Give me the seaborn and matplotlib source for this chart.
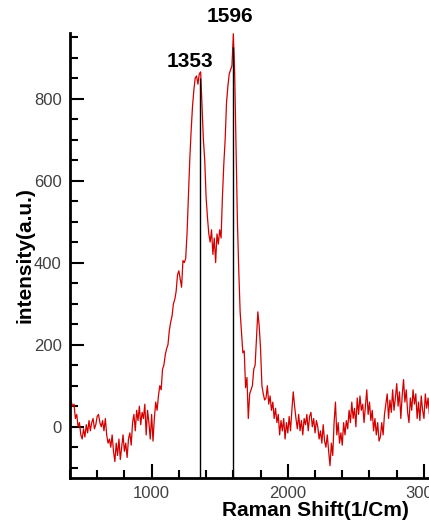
import numpy as np
import matplotlib
matplotlib.use("Agg")
import matplotlib.pyplot as plt
import seaborn as sns
from matplotlib.ticker import MultipleLocator

# Raman shift grid (1/cm), sampled every 10
raman_shift = np.arange(400, 3041, 10)

# intensity, one row per 100 1/cm
intensity = [
    95, 60, 50, 55, 20, 30, 0, 10, -20, -30,
    -5, -25, 5, -15, 15, -10, 10, 20, -5, 5,
    25, 30, 10, 0, 15, -10, 20, -20, -40, -30,
    -50, -20, -60, -85, -40, -70, -30, -80, -50, -20,
    -60, -40, -75, -30, -15, -45, 10, 30, -10, 40,
    15, 50, 5, 35, 20, 55, -20, 40, 10, -30,
    30, -35, 20, 60, 40, 75, 100, 90, 140, 150,
    175, 190, 200, 235, 255, 270, 300, 310, 330, 370,
    380, 360, 340, 405, 400, 410, 470, 560, 650, 720,
    780, 820, 850, 855, 835, 860, 865, 780, 700, 650,
    560, 510, 470, 450, 480, 420, 460, 400, 470, 445,
    480, 460, 560, 640, 700, 790, 830, 860, 870, 880,
    958, 860, 680, 500, 380, 280, 230, 180, 185, 95,
    120, 20, 80, 90, 100, 140, 150, 215, 280, 245,
    190, 100, 80, 65, 70, 100, 55, 75, 40, 60,
    20, 45, 10, 30, -20, 15, -10, 20, -30, 10,
    -15, 25, -10, 40, 85, 50, 20, -5, 30, -10,
    15, -20, 20, 5, 30, -10, 25, 35, 0, 20,
    -15, 15, 0, -30, -10, -40, 5, -35, -50, -20,
    -60, -95, -40, -70, 10, 60, -20, 10, -40, -15,
    -45, 10, -20, 15, -5, 40, 10, 60, 20, 45,
    0, 70, 30, 75, 40, 55, 10, 50, 90, 30,
    60, 15, 40, -10, 20, -20, 10, -35, -25, 10,
    -20, 30, 55, 80, 20, 65, 35, 90, 40, 70,
    105, 50, 85, 20, 75, 115, 60, 90, 35, 10,
    70, 40, 90, 55, 80, 20, 60, 15, 75, 40,
    20, 80, 45, 70, 30,
]

# marked peaks
peak_pos = [1353, 1596]
peak_top = [850, 925]
peak_labels = ["1353", "1596"]
label_pos = [(1282, 890), (1576, 1000)]

sns.set_style("ticks")
plt.rcParams["font.family"] = ["Liberation Sans", "DejaVu Sans"]
plt.rcParams["text.color"] = "black"
plt.rcParams["axes.labelcolor"] = "black"

fig = plt.figure(figsize=(4.29, 5.22), dpi=100)
ax = fig.add_axes([0.163, 0.0843, 0.837, 0.8527])

sns.lineplot(x=raman_shift, y=intensity, ax=ax, color="#d40000",
             lw=0.9, estimator=None, sort=False)

ymin, ymax = -125, 960
ax.vlines(peak_pos, ymin, peak_top, color="black", lw=1, zorder=3)
for (tx, ty), lab in zip(label_pos, peak_labels):
    ax.text(tx, ty, lab, ha="center", va="center", fontsize=15,
            fontweight="bold", color="black", clip_on=False)

ax.set_xlim(400, 3037)
ax.set_ylim(ymin, ymax)
ax.xaxis.set_major_locator(MultipleLocator(1000))
ax.xaxis.set_minor_locator(MultipleLocator(200))
ax.yaxis.set_major_locator(MultipleLocator(200))
ax.yaxis.set_minor_locator(MultipleLocator(50))

ax.tick_params(which="both", direction="in", width=1.5, color="black",
               labelsize=12, labelcolor="#404040")
ax.tick_params(which="major", length=10, pad=6)
ax.tick_params(which="minor", length=6)

for side in ["top", "right"]:
    ax.spines[side].set_visible(False)
for side in ["left", "bottom"]:
    ax.spines[side].set_linewidth(2)
    ax.spines[side].set_color("black")

ax.set_xlabel("Raman Shift(1/Cm)", fontsize=15, fontweight="bold")
ax.set_ylabel("intensity(a.u.)", fontsize=15, fontweight="bold")
ax.xaxis.label.set_va("center")
ax.yaxis.label.set_va("center")
ax.xaxis.set_label_coords(0.685, -0.072)
ax.yaxis.set_label_coords(-0.125, 0.5)

fig.savefig("out.png", dpi=100)
